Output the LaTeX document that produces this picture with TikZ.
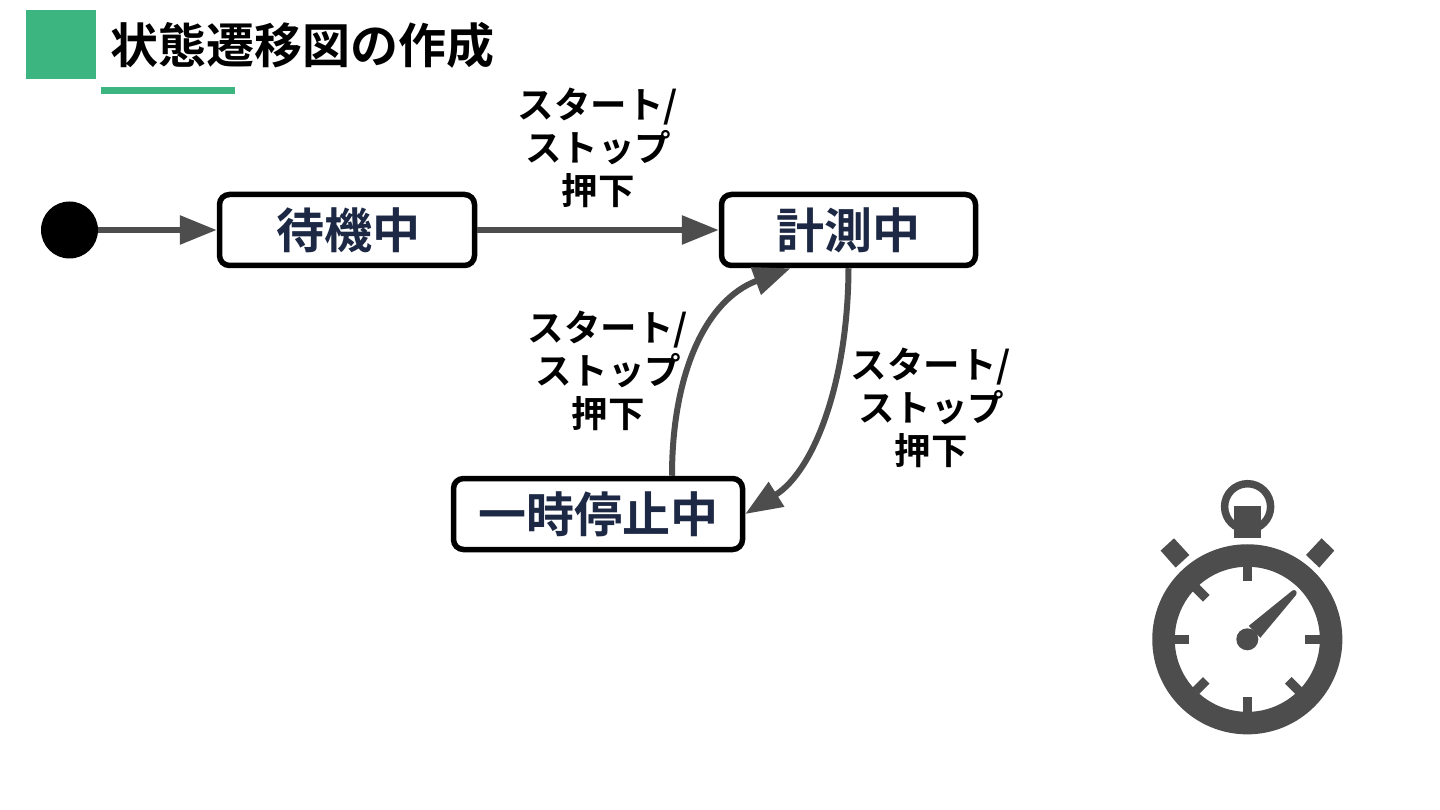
\documentclass[tikz,border=0pt]{standalone}
\usepackage{fontspec}
\usetikzlibrary{arrows.meta,calc}
\newfontfamily\jpb{Noto Sans CJK JP Bold}
\definecolor{grn}{HTML}{3CB580}
\definecolor{gry}{HTML}{4D4D4D}
\definecolor{nvy}{HTML}{1D2844}
\tikzset{
  statebox/.style={draw=black,line width=5.5pt,rounded corners=10pt,fill=white,minimum height=71pt,inner sep=0pt,outer sep=2.75pt,text=nvy,font=\jpb\fontsize{48pt}{50pt}\selectfont},
  conn/.style={draw=gry,line width=6pt,-{Triangle[length=37pt,width=28pt]}},
  lab/.style={align=center,inner sep=0pt,text=black,font=\jpb\fontsize{36.5pt}{43pt}\selectfont},
  tick/.style={draw=gry,line width=9.3pt}
}
\begin{document}
\begin{tikzpicture}[x=1pt,y=-1pt]
\useasboundingbox (0,0) rectangle (1440,810);
\fill[white] (0,0) rectangle (1440,810);
\fill[grn] (26,10) rectangle (96,79);
\fill[grn] (101,87) rectangle (235,94);
\node[anchor=west,inner sep=0pt,font=\jpb\fontsize{48pt}{50pt}\selectfont] (title) at (110,45) {状態遷移図の作成};
\node[circle,fill=black,minimum size=57pt,inner sep=0pt,outer sep=0pt] (start) at (69.5,230) {};
\node[statebox,minimum width=255pt] (wait) at (347,230) {\raisebox{-1.5pt}{\hspace*{3pt}待機中}};
\node[statebox,minimum width=254pt] (meas) at (848.5,230) {\raisebox{-1.5pt}{計測中}};
\node[statebox,minimum width=289pt] (pause) at (598,514) {\raisebox{-1.5pt}{一時停止中}};
\draw[conn] (start.east) -- (wait.west);
\draw[conn] (wait.east) -- (meas.west);
\draw[conn] ($(pause.north)+(74,0)$) .. controls (672,375) and (705,300) .. ($(meas.south)+(-58,0)$);
\draw[conn] (meas.south) .. controls (848,380) and (815,470) .. (pause.east);
\node[lab] (l1) at (598,148) {スタート/\\ストップ\\押下};
\node[lab] (l2) at (608,371) {スタート/\\ストップ\\押下};
\node[lab] (l3) at (931,408) {スタート/\\ストップ\\押下};
% stopwatch
\begin{scope}[shift={(1247.3,639.3)}]
  \draw[gry,line width=7.5pt] (0.3,-132.6) circle (23pt);
  \fill[gry] (-13.5,-133) rectangle (13.5,-101);
  \draw[gry,line width=22.5pt] (0,0) circle (83.8pt);
  \foreach \a in {0,90,135,180,225,270,315}{
    \draw[tick,rotate=\a] (73,0) -- (58,0);
  }
  \fill[gry] (-73.3,-101) -- (-58,-84.3) -- (-71.7,-71.7) -- (-86.7,-88.7) -- cycle;
  \fill[gry] (74.3,-101) -- (87,-88.7) -- (72,-71.7) -- (58.7,-84.3) -- cycle;
  \fill[gry] (1.5,-13.5) -- (45,-48.7) .. controls (48,-50.5) and (50.5,-47.5) .. (48.7,-44.3) -- (13,-1.5) -- cycle;
  \fill[gry] (0,0) circle (11pt);
\end{scope}
\end{tikzpicture}
\end{document}
